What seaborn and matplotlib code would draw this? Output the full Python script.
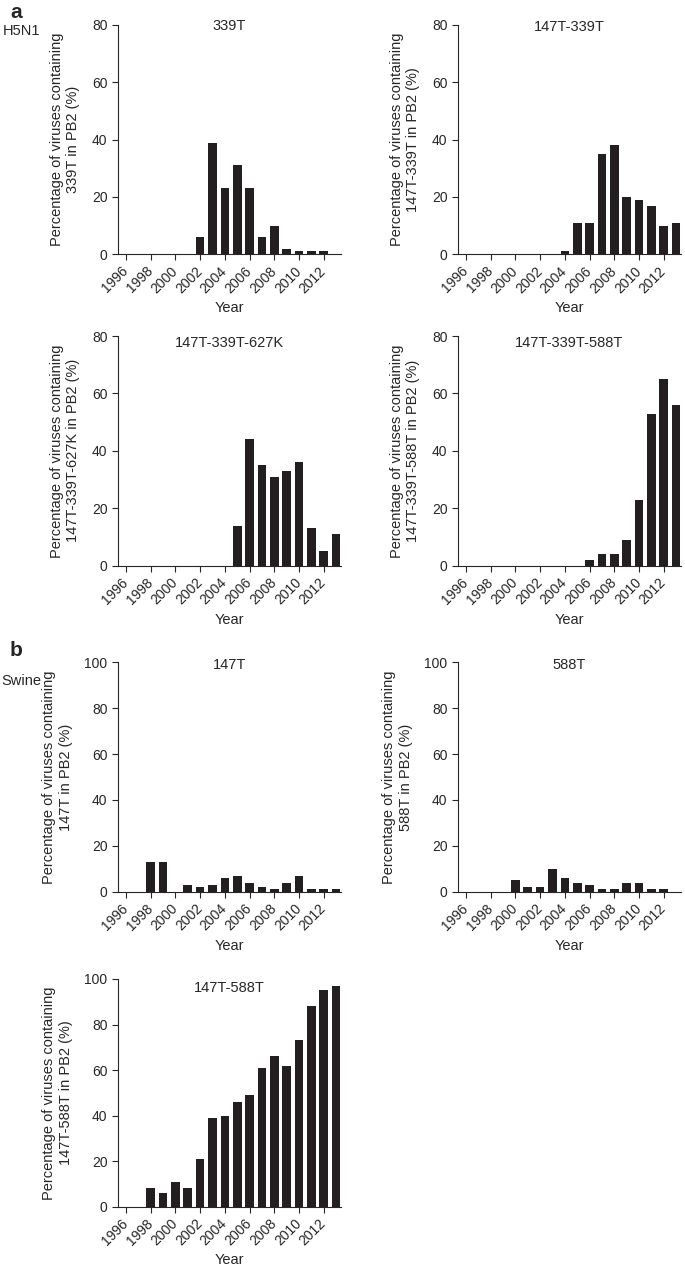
import numpy as np
import pandas as pd
import matplotlib
matplotlib.use("Agg")
import matplotlib.pyplot as plt
import seaborn as sns

# Years on the x axis (1996-2013)
years = list(range(1996, 2014))
year_ticks = list(range(1996, 2013, 2))

# H5N1 panels (percentage of viruses)
h5n1_339T = [0, 0, 0, 0, 0, 0, 6, 39, 23, 31, 23, 6, 10, 2, 1, 1, 1, 0]
h5n1_147T_339T = [0, 0, 0, 0, 0, 0, 0, 0, 1, 11, 11, 35, 38, 20, 19, 17, 10, 11]
h5n1_147T_339T_627K = [0, 0, 0, 0, 0, 0, 0, 0, 0, 14, 44, 35, 31, 33, 36, 13, 5, 11]
h5n1_147T_339T_588T = [0, 0, 0, 0, 0, 0, 0, 0, 0, 0, 2, 4, 4, 9, 23, 53, 65, 56]

# Swine panels
swine_147T = [0, 0, 13, 13, 0, 3, 2, 3, 6, 7, 4, 2, 1, 4, 7, 1, 1, 1]
swine_588T = [0, 0, 0, 0, 5, 2, 2, 10, 6, 4, 3, 1, 1, 4, 4, 1, 1, 0]
swine_147T_588T = [0, 0, 8, 6, 11, 8, 21, 39, 40, 46, 49, 61, 66, 62, 73, 88, 95, 97]

sns.set_style("ticks")
plt.rcParams['font.family'] = ['Liberation Sans', 'DejaVu Sans']
plt.rcParams['axes.linewidth'] = 0.8
plt.rcParams['xtick.major.width'] = 0.8
plt.rcParams['ytick.major.width'] = 0.8
plt.rcParams['xtick.major.size'] = 4
plt.rcParams['ytick.major.size'] = 4

bar_color = '#231f20'
fs = 10.5
tick_fs = 10

fig = plt.figure(figsize=(6.85, 12.73), dpi=100)

W, H = 685.0, 1273.0


def panel(left_px, top_px, bottom_px, values, title, ymax, title_y):
    ax = fig.add_axes([left_px / W, 1 - bottom_px / H, 223 / W, (bottom_px - top_px) / H])
    df = pd.DataFrame({'year': years, 'pct': values})
    sns.barplot(data=df, x='year', y='pct', native_scale=True, width=0.7,
                color=bar_color, saturation=1, linewidth=0, ax=ax)
    ax.set_xlim(1995.35, 2013.4)
    ax.set_ylim(0, ymax)
    ax.set_yticks(np.arange(0, ymax + 1, 20))
    ax.set_xticks(year_ticks)
    ax.set_xticklabels([str(y) for y in year_ticks], rotation=45, ha='right',
                       va='center', rotation_mode='anchor', fontsize=tick_fs)
    ax.tick_params(axis='y', labelsize=tick_fs, pad=3.5)
    ax.tick_params(axis='x', pad=6.5)
    ax.set_xlabel('Year', fontsize=fs)
    ax.xaxis.set_label_coords(0.5, -0.205)
    ax.set_ylabel('Percentage of viruses containing\n' + title + ' in PB2 (%)',
                  fontsize=fs, labelpad=8.5, linespacing=1.2)
    ax.text(0.5, title_y, title, transform=ax.transAxes, ha='center', va='center',
            fontsize=fs)
    sns.despine(ax=ax)
    return ax


panel(118, 25, 254.3, h5n1_339T, '339T', 80, 0.995)
panel(458, 25, 254.3, h5n1_147T_339T, '147T-339T', 80, 0.993)
panel(118, 336, 565.7, h5n1_147T_339T_627K, '147T-339T-627K', 80, 0.97)
panel(458, 336, 565.7, h5n1_147T_339T_588T, '147T-339T-588T', 80, 0.97)
panel(118, 662.3, 891.7, swine_147T, '147T', 100, 0.987)
panel(458, 662.3, 891.7, swine_588T, '588T', 100, 0.987)
panel(118, 979, 1206.7, swine_147T_588T, '147T-588T', 100, 0.96)

fig.text(10 / W, 1 - 13 / H, 'a', fontsize=15, fontweight='bold', va='center', ha='left')
fig.text(3 / W, 1 - 31 / H, 'H5N1', fontsize=fs, va='center', ha='left')
fig.text(10 / W, 1 - 650 / H, 'b', fontsize=15, fontweight='bold', va='center', ha='left')
fig.text(1 / W, 1 - 681 / H, 'Swine', fontsize=fs, va='center', ha='left')

fig.savefig('out.png', dpi=100)
